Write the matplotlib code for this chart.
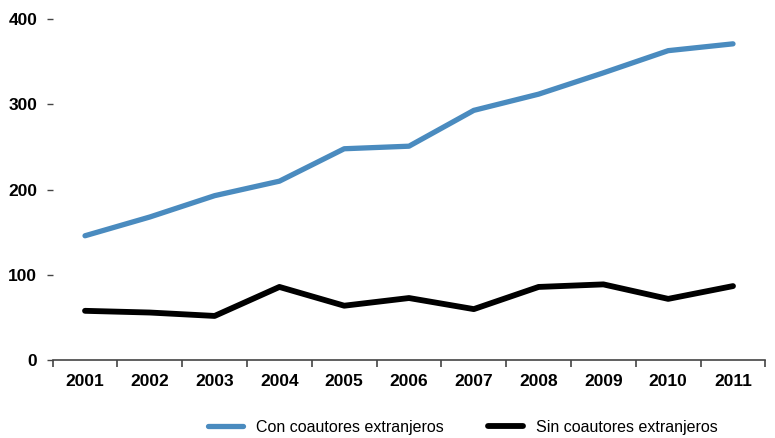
import numpy as np
import matplotlib
matplotlib.use("Agg")
import matplotlib.pyplot as plt
from matplotlib.ticker import FixedLocator

years = ["2001", "2002", "2003", "2004", "2005", "2006", "2007", "2008", "2009", "2010", "2011"]
con_coautores = [146, 168, 193, 210, 248, 251, 293, 312, 337, 363, 371]
sin_coautores = [58, 56, 52, 86, 64, 73, 60, 86, 89, 72, 87]
yticks = [0, 100, 200, 300, 400]

plt.rcParams['font.family'] = ['Liberation Sans', 'DejaVu Sans']

fig = plt.figure(figsize=(7.75, 4.38), dpi=100)
ax = fig.add_axes([0.0679, 0.1774, 0.9197, 0.779])

x = np.arange(len(years))
ax.plot(x, con_coautores, color="#4a8bbf", lw=3.8, solid_capstyle="round",
        solid_joinstyle="round", label="Con coautores extranjeros")
ax.plot(x, sin_coautores, color="black", lw=4.2, solid_capstyle="round",
        solid_joinstyle="round", label="Sin coautores extranjeros")

ax.set_xlim(-0.5, len(years) - 0.5)
ax.set_ylim(0, 400)
ax.set_yticks(yticks)
ax.set_yticklabels([str(v) for v in yticks], fontsize=12.5, fontweight="bold")
ax.set_xticks(x)
ax.set_xticklabels(years, fontsize=12.5, fontweight="bold")
ax.xaxis.set_minor_locator(FixedLocator(np.arange(-0.5, len(years), 1)))

for s in ["top", "right", "left"]:
    ax.spines[s].set_visible(False)
ax.spines["bottom"].set_color("#444444")
ax.spines["bottom"].set_linewidth(1.2)

ax.tick_params(axis="x", which="major", length=0, pad=10)
ax.tick_params(axis="x", which="minor", length=5, width=1.2, color="#444444", direction="out")
ax.tick_params(axis="y", length=4, width=1, color="#444444", pad=7)

leg = fig.legend(loc="center", bbox_to_anchor=(0.597, 0.025), ncol=2, frameon=False,
                 fontsize=11.5, handlelength=2.2, columnspacing=2.8, handletextpad=0.8)

fig.savefig("out.png", dpi=100)
